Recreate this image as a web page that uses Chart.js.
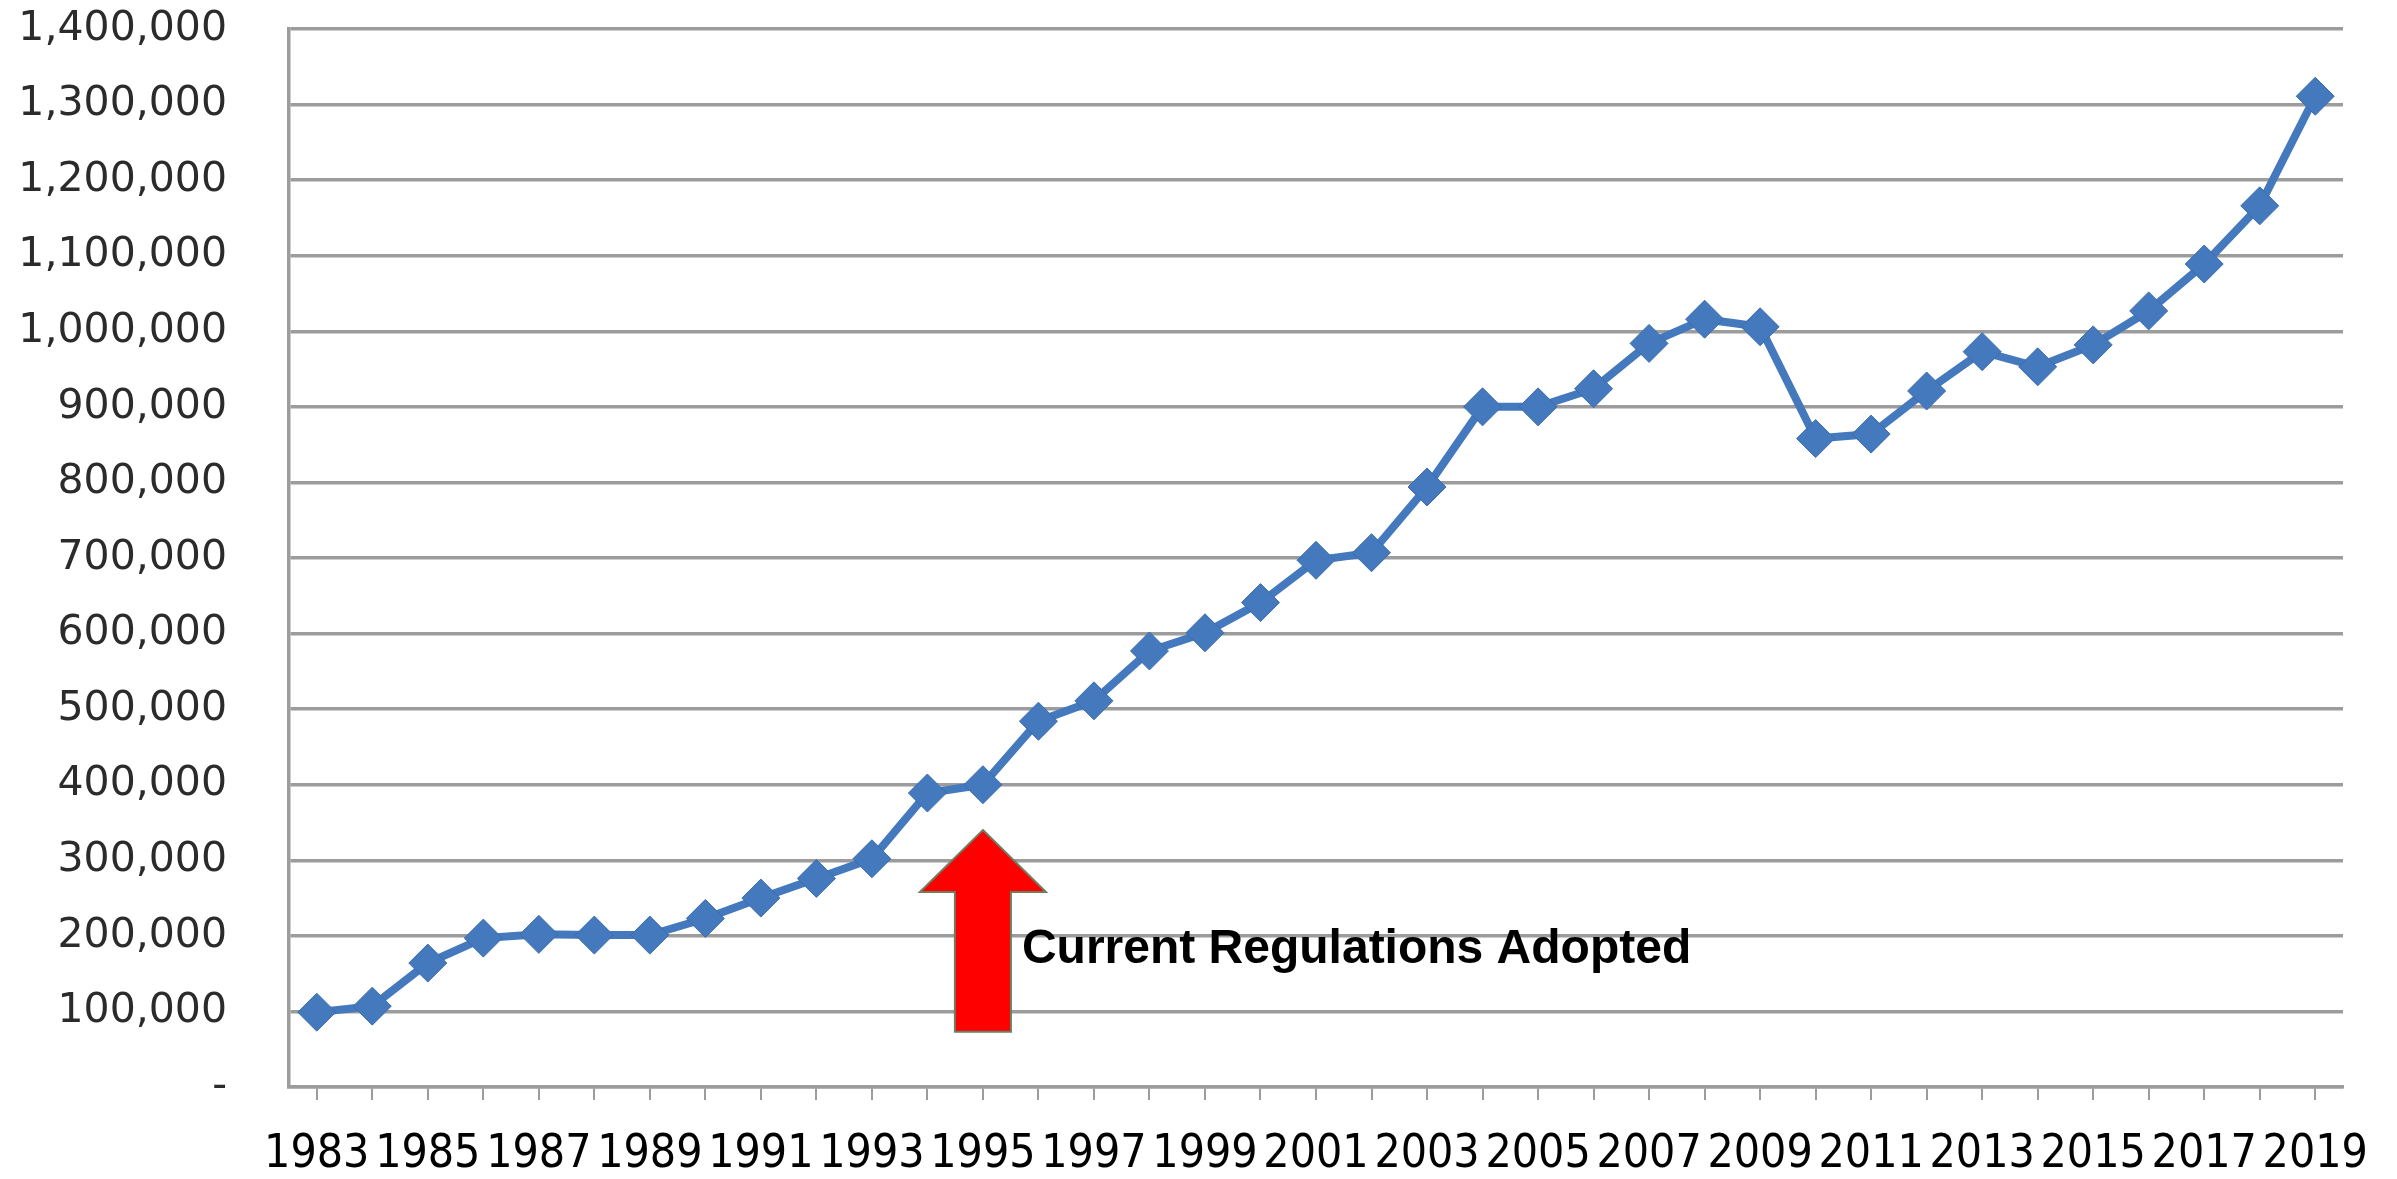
<!DOCTYPE html>
<html>
<head>
<meta charset="utf-8">
<script src="https://cdn.jsdelivr.net/npm/chart.js@4.4.0/dist/chart.umd.min.js"></script>
<style>
  html, body { margin: 0; padding: 0; background: #ffffff; }
  #wrap { width: 2397px; height: 1179px; }
</style>
</head>
<body>
<div id="wrap"><canvas id="regGraph"></canvas></div>
<script>
const years = [
    "1983", "1984", "1985", "1986", "1987", "1988", "1989", "1990", "1991", "1992",
    "1993", "1994", "1995", "1996", "1997", "1998", "1999", "2000", "2001", "2002",
    "2003", "2004", "2005", "2006", "2007", "2008", "2009", "2010", "2011", "2012",
    "2013", "2014", "2015", "2016", "2017", "2018", "2019"];

const values = [
    99000, 107000, 164000, 197000, 202000, 201000, 201000, 223000, 250000, 276000,
    302000, 389000, 400000, 484000, 511000, 577000, 601000, 641000, 697000, 707000,
    794000, 900000, 900000, 924000, 984000, 1016000, 1006000, 858000, 864000, 921000,
    973000, 953000, 982000, 1027000, 1089000, 1166000, 1311000];

const yTicks = { min: 0, max: 1400000, step: 100000 };

// arrow note under 1995
const note = {
    year: "1995",
    tip: 340000,
    headBase: 258000,
    bottom: 73000,
    textAt: 182000,
    text: "Current Regulations Adopted"
};

const gridColor = '#9c9c9c';

const arrowPlugin = {
    id: 'arrowNote',
    afterDatasetsDraw(chart) {
        const x = chart.scales.x, y = chart.scales.y;
        const c = chart.ctx;
        const cx = x.getPixelForValue(years.indexOf(note.year));
        const yTip = y.getPixelForValue(note.tip);
        const yHead = y.getPixelForValue(note.headBase);
        const yBot = y.getPixelForValue(note.bottom);
        const headW = 63, shaftW = 28;
        c.save();
        c.beginPath();
        c.moveTo(cx, yTip);
        c.lineTo(cx + headW, yHead);
        c.lineTo(cx + shaftW, yHead);
        c.lineTo(cx + shaftW, yBot);
        c.lineTo(cx - shaftW, yBot);
        c.lineTo(cx - shaftW, yHead);
        c.lineTo(cx - headW, yHead);
        c.closePath();
        c.fillStyle = '#ff0000';
        c.fill();
        c.lineWidth = 2;
        c.strokeStyle = '#6e7d60';
        c.stroke();
        c.fillStyle = '#000000';
        c.font = 'bold 48px "Liberation Sans", Arial, sans-serif';
        c.textBaseline = 'middle';
        c.textAlign = 'left';
        c.fillText(note.text, cx + shaftW + 11, y.getPixelForValue(note.textAt));
        c.restore();
    }
};

const ctx = document.getElementById('regGraph').getContext('2d');

new Chart(ctx, {
    type: 'line',
    data: {
        labels: years,
        datasets: [{
            data: values,
            borderColor: '#4579bd',
            borderWidth: 8,
            backgroundColor: '#4579bd',
            pointStyle: 'rectRot',
            pointRadius: 19,
            pointBorderColor: '#3b6cab',
            pointBorderWidth: 1,
            tension: 0
        }]
    },
    options: {
        responsive: true,
        maintainAspectRatio: false,
        animation: false,
        layout: {
            padding: { top: 29, right: 54, left: 0, bottom: 0 }
        },
        scales: {
            x: {
                offset: true,
                afterFit(scale) { scale.height = 92; },
                grid: {
                    offset: false,
                    drawOnChartArea: false,
                    drawTicks: true,
                    tickLength: 13,
                    color: gridColor,
                    lineWidth: 2
                },
                border: { display: true, color: gridColor, width: 3.5 },
                ticks: {
                    autoSkip: false,
                    maxRotation: 0,
                    padding: 27,
                    color: '#000000',
                    font: { family: "'Liberation Sans Narrow', 'DejaVu Sans Condensed', Roboto, sans-serif", size: 46 },
                    callback(value, index) {
                        return index % 2 === 0 ? years[index] : '';
                    }
                }
            },
            y: {
                min: yTicks.min,
                max: yTicks.max,
                afterFit(scale) { scale.width = 289; },
                grid: {
                    color: gridColor,
                    lineWidth: 3.5,
                    drawTicks: true,
                    tickLength: 62,
                    tickColor: 'rgba(0,0,0,0)'
                },
                border: { display: true, color: gridColor, width: 3.5 },
                ticks: {
                    stepSize: yTicks.step,
                    padding: 0,
                    color: '#2b2b2b',
                    font: { family: "'DejaVu Sans', Verdana, sans-serif", size: 41 },
                    callback(value) {
                        return value === 0 ? '-' : value.toLocaleString('en-US');
                    }
                }
            }
        },
        plugins: {
            legend: { display: false },
            tooltip: { enabled: false }
        }
    },
    plugins: [arrowPlugin]
});
</script>
</body>
</html>
